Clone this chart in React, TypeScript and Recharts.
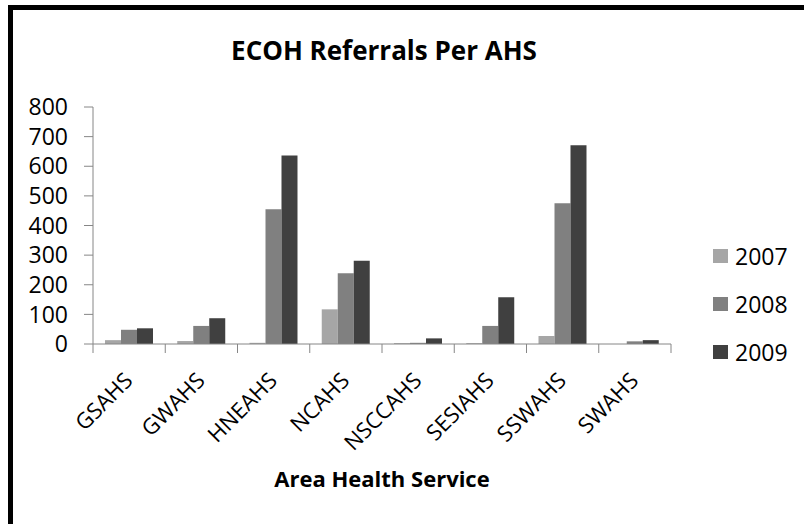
import { Bar, BarChart, XAxis, YAxis } from "recharts";

const categories = ["GSAHS", "GWAHS", "HNEAHS", "NCAHS", "NSCCAHS", "SESIAHS", "SSWAHS", "SWAHS"];
const y2007 = [13, 10, 4, 117, 3, 3, 27, 0];
const y2008 = [48, 61, 455, 239, 4, 61, 475, 9];
const y2009 = [53, 87, 636, 281, 19, 158, 671, 13];
const yTicks = [0, 100, 200, 300, 400, 500, 600, 700, 800];
const seriesNames = ["2007", "2008", "2009"];
const seriesColors = ["#a6a6a6", "#808080", "#404040"];

const data = categories.map((name, i) => ({
  name,
  y2007: y2007[i],
  y2008: y2008[i],
  y2009: y2009[i],
}));

const font = "'Open Sans', 'DejaVu Sans', sans-serif";
const axisColor = "#868686";

const W = 804;
const H = 524;
const margin = { top: 107, right: 133, left: 0, bottom: 0 };
const yAxisWidth = 93;
const bandWidth = (W - margin.right - yAxisWidth) / categories.length;

function CategoryTick(props: any) {
  const { x, y, index, payload } = props;
  const left = x - bandWidth / 2;
  const right = x + bandWidth / 2;
  const ax = x + 5;
  const ay = y + 30;
  return (
    <g>
      <line x1={left} y1={y - 8} x2={left} y2={y + 1} stroke={axisColor} />
      {index === categories.length - 1 && (
        <line x1={right} y1={y - 8} x2={right} y2={y + 1} stroke={axisColor} />
      )}
      <text
        x={ax}
        y={ay}
        textAnchor="end"
        style={{ fontFamily: font, fontSize: 22 }}
        fill="#000"
        transform={`rotate(-45, ${ax}, ${ay})`}
      >
        {payload.value}
      </text>
    </g>
  );
}

export default function App() {
  return (
    <div style={{ position: "absolute", left: 0, top: 0, width: W, height: H, background: "#fff" }}>
      <div
        style={{
          position: "absolute",
          left: 8,
          top: 5,
          width: W - 8,
          height: H - 5,
          borderTop: "5px solid #000",
          borderLeft: "5px solid #000",
          boxSizing: "border-box",
        }}
      />
      <div
        style={{
          position: "absolute",
          left: 0,
          width: 768,
          top: 32,
          textAlign: "center",
          fontFamily: font,
          fontWeight: 700,
          fontSize: 26,
        }}
      >
        ECOH Referrals Per AHS
      </div>
      <div
        style={{
          position: "absolute",
          left: 0,
          width: 764,
          top: 463,
          textAlign: "center",
          fontFamily: font,
          fontWeight: 700,
          fontSize: 22,
        }}
      >
        Area Health Service
      </div>
      <div style={{ position: "absolute", left: 713, top: 232, fontFamily: font, fontSize: 23 }}>
        {seriesNames.map((name, i) => (
          <div key={name} style={{ display: "flex", alignItems: "center", height: 48 }}>
            <span style={{ width: 15, height: 14, background: seriesColors[i], marginRight: 7 }} />
            <span>{name}</span>
          </div>
        ))}
      </div>
      <div style={{ position: "absolute", left: 0, top: 0 }}>
        <BarChart
          width={W}
          height={H}
          data={data}
          margin={margin}
          barCategoryGap="16.6%"
          barGap={0}
        >
          <YAxis
            width={yAxisWidth}
            domain={[0, 800]}
            ticks={yTicks}
            interval={0}
            stroke={axisColor}
            tickSize={9}
            tickMargin={16}
            tick={{ fill: "#000", fontFamily: font, fontSize: 23 }}
          />
          <XAxis
            dataKey="name"
            height={H - 344}
            interval={0}
            stroke={axisColor}
            tickLine={false}
            tick={<CategoryTick />}
          />
          {seriesNames.map((name, i) => (
            <Bar
              key={name}
              dataKey={`y${name}`}
              name={name}
              fill={seriesColors[i]}
              isAnimationActive={false}
            />
          ))}
        </BarChart>
      </div>
    </div>
  );
}
